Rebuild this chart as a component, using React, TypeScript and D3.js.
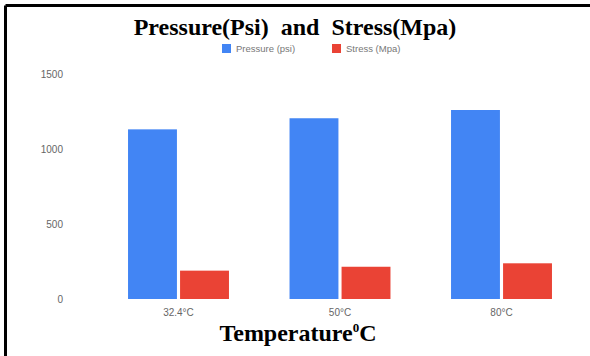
import React from "react";
import * as d3 from "d3";

const categories = ["32.4°C", "50°C", "80°C"];
const seriesNames = ["Pressure (psi)", "Stress (Mpa)"];
const pressure = [1131, 1205, 1260];
const stress = [189, 215, 238];
const yTicks = [0, 500, 1000, 1500];
const colors = ["#4285F4", "#EA4335"];

const W = 590;
const H = 356;

export default function App() {
  const y = d3.scaleLinear().domain([0, 1500]).range([299, 74]);
  const x0 = d3
    .scaleBand<string>()
    .domain(categories)
    .range([97.75, 582.25])
    .paddingInner(0.375)
    .paddingOuter(0.1875);
  const x1 = d3
    .scaleBand<string>()
    .domain(seriesNames)
    .range([0, x0.bandwidth()])
    .paddingInner(0.06);
  const series = [pressure, stress];

  return (
    <div style={{ position: "fixed", left: 0, top: 0 }}>
      <svg width={W} height={H} style={{ display: "block", background: "#fff" }}>
        <rect x={0} y={0} width={W} height={H} fill="#fff" />
        {/* border */}
        <line x1={5.5} y1={5.5} x2={W} y2={5.5} stroke="#000" strokeWidth={3} />
        <line x1={5.5} y1={5.5} x2={5.5} y2={H} stroke="#000" strokeWidth={3} />

        <text
          x={295}
          y={35}
          textAnchor="middle"
          fontFamily="'Liberation Serif', 'Times New Roman', serif"
          fontWeight="bold"
          fontSize={24}
          fill="#000"
          style={{ whiteSpace: "pre" }}
        >
          {"Pressure(Psi)  and  Stress(Mpa)"}
        </text>

        {/* legend */}
        {seriesNames.map((name, i) => {
          const lx = i === 0 ? 222 : 332;
          return (
            <g key={name} transform={`translate(${lx},44)`}>
              <rect x={0} y={0} width={9} height={9} fill={colors[i]} />
              <text
                x={14}
                y={8}
                fontFamily="Arial, 'Liberation Sans', sans-serif"
                fontSize={9.5}
                fill="#777"
              >
                {name}
              </text>
            </g>
          );
        })}

        {/* y ticks */}
        {yTicks.map((t) => (
          <text
            key={t}
            x={63}
            y={y(t) + 3.5}
            textAnchor="end"
            fontFamily="Arial, 'Liberation Sans', sans-serif"
            fontSize={10}
            fill="#666"
          >
            {t}
          </text>
        ))}

        {/* bars */}
        {categories.map((c, ci) => (
          <g key={c} transform={`translate(${x0(c)},0)`}>
            {seriesNames.map((s, si) => (
              <rect
                key={s}
                x={x1(s)}
                y={y(series[si][ci])}
                width={x1.bandwidth()}
                height={y(0) - y(series[si][ci])}
                fill={colors[si]}
              />
            ))}
          </g>
        ))}

        {/* x labels */}
        {categories.map((c) => (
          <text
            key={c}
            x={(x0(c) as number) + x0.bandwidth() / 2}
            y={316}
            textAnchor="middle"
            fontFamily="Arial, 'Liberation Sans', sans-serif"
            fontSize={10}
            fill="#666"
          >
            {c}
          </text>
        ))}

        <text
          x={298}
          y={341}
          textAnchor="middle"
          fontFamily="'Liberation Serif', 'Times New Roman', serif"
          fontWeight="bold"
          fontSize={24}
          fill="#000"
        >
          Temperature
          <tspan fontSize={13} dy={-9}>0</tspan>
          <tspan dy={9}>C</tspan>
        </text>
      </svg>
    </div>
  );
}
